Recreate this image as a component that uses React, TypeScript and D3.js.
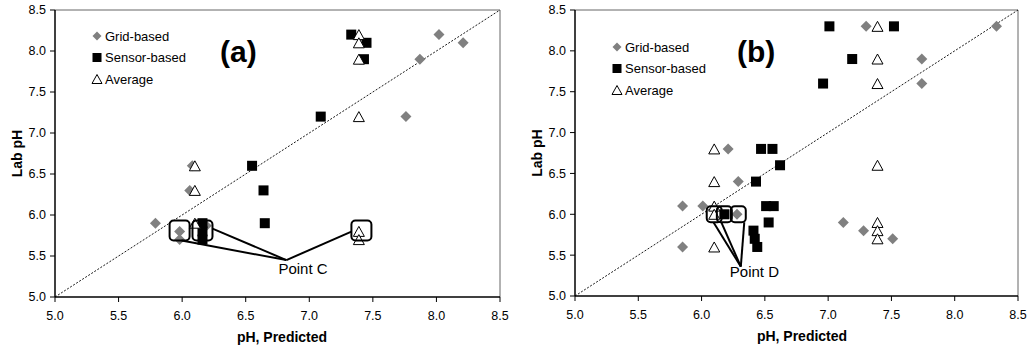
import React from "react";
import * as d3 from "d3";

type Pt = [number, number];

// Axis ticks shared by both panels (pH units)
const TICKS: number[] = [5.0, 5.5, 6.0, 6.5, 7.0, 7.5, 8.0, 8.5];

// Panel (a): [predicted pH, lab pH]
const gridA: Pt[] = [
  [8.02, 8.2], [8.21, 8.1], [7.87, 7.9], [7.76, 7.2], [6.08, 6.6], [6.06, 6.3],
  [5.79, 5.9], [6.19, 5.87], [5.98, 5.8], [5.98, 5.7],
];
const sensorA: Pt[] = [
  [7.33, 8.2], [7.45, 8.1], [7.43, 7.9], [7.09, 7.2], [6.55, 6.6], [6.64, 6.3],
  [6.65, 5.9], [6.16, 5.9], [6.16, 5.8], [6.16, 5.7],
];
const averageA: Pt[] = [
  [7.39, 8.2], [7.39, 8.1], [7.39, 7.9], [7.39, 7.2], [6.1, 6.6], [6.1, 6.3],
  [6.1, 5.9], [7.39, 5.8], [7.39, 5.7],
];
const calloutA: Pt[] = [[5.98, 5.81], [6.16, 5.81], [7.41, 5.81]];
const calloutAnchorA: Pt = [6.82, 5.45];

// Panel (b): [predicted pH, lab pH]
const gridB: Pt[] = [
  [7.3, 8.3], [8.33, 8.3], [7.74, 7.9], [7.74, 7.6], [6.21, 6.8], [6.29, 6.4],
  [5.85, 6.1], [6.01, 6.1], [6.28, 6.0], [5.85, 5.6], [7.12, 5.9], [7.28, 5.8],
  [7.51, 5.7],
];
const sensorB: Pt[] = [
  [7.01, 8.3], [7.52, 8.3], [7.19, 7.9], [6.96, 7.6], [6.47, 6.8], [6.56, 6.8],
  [6.62, 6.6], [6.43, 6.4], [6.51, 6.1], [6.57, 6.1], [6.18, 6.0], [6.53, 5.9],
  [6.41, 5.8], [6.42, 5.7], [6.44, 5.6],
];
const averageB: Pt[] = [
  [7.39, 8.3], [7.39, 7.9], [7.39, 7.6], [6.1, 6.8], [7.39, 6.6], [6.1, 6.4],
  [6.1, 6.1], [6.1, 6.0], [6.1, 5.6], [7.39, 5.9], [7.39, 5.8], [7.39, 5.7],
];
const calloutB: Pt[] = [[6.1, 6.0], [6.18, 6.0], [6.29, 6.0]];
const calloutAnchorB: Pt = [6.31, 5.36];

const LEGEND = ["Grid-based", "Sensor-based", "Average"];
const FONT = "'Liberation Sans', Arial, sans-serif";
const GRAY = "#808080";

const diamond = (cx: number, cy: number, r: number) =>
  `M${cx},${cy - r}L${cx + r},${cy}L${cx},${cy + r}L${cx - r},${cy}Z`;
const triangle = (cx: number, cy: number, w: number, h: number) =>
  `M${cx},${cy - h / 2}L${cx + w / 2},${cy + h / 2}L${cx - w / 2},${cy + h / 2}Z`;

interface PanelProps {
  left: number;
  right: number;
  top: number;
  bottom: number;
  tag: string;
  tagX: number;
  legendX: number;
  legendY: number;
  grid: Pt[];
  sensor: Pt[];
  average: Pt[];
  callouts: Pt[];
  boxW: number;
  boxH: number;
  anchor: Pt;
  // offsets (in box half-sizes) where each leader line leaves its box
  leaderStarts: Pt[];
  calloutText: string;
  calloutDx: number;
  calloutDy: number;
  titleX: number;
}

function Panel(p: PanelProps) {
  const x = d3.scaleLinear().domain([5, 8.5]).range([p.left, p.right]);
  const y = d3.scaleLinear().domain([5, 8.5]).range([p.bottom, p.top]);
  const [ax, ay] = [x(p.anchor[0]), y(p.anchor[1])];
  const midY = (p.top + p.bottom) / 2;

  return (
    <g fontFamily={FONT}>
      {/* plot frame */}
      <line x1={p.left} x2={p.right} y1={p.top} y2={p.top} stroke="#666" strokeWidth={1} />
      <line x1={p.right} x2={p.right} y1={p.top} y2={p.bottom} stroke="#666" strokeWidth={1} />

      {/* 1:1 line */}
      <line
        x1={x(5)} y1={y(5)} x2={x(8.5)} y2={y(8.5)}
        stroke="#000" strokeWidth={0.9} strokeDasharray="2,1.6"
      />

      {/* axes */}
      <line x1={p.left} x2={p.left} y1={p.top} y2={p.bottom} stroke="#000" strokeWidth={1.5} />
      <line x1={p.left} x2={p.right} y1={p.bottom} y2={p.bottom} stroke="#000" strokeWidth={1.5} />
      {TICKS.map((t) => (
        <g key={"y" + t}>
          <line x1={p.left - 5} x2={p.left} y1={y(t)} y2={y(t)} stroke="#000" strokeWidth={1} />
          <text x={p.left - 9} y={y(t)} dy="0.35em" textAnchor="end" fontSize={12.5} fill="#000">
            {t.toFixed(1)}
          </text>
        </g>
      ))}
      {TICKS.map((t) => (
        <g key={"x" + t}>
          <line x1={x(t)} x2={x(t)} y1={p.bottom} y2={p.bottom + 5} stroke="#000" strokeWidth={1} />
          <text x={x(t)} y={p.bottom + 23} textAnchor="middle" fontSize={12.5} fill="#000">
            {t.toFixed(1)}
          </text>
        </g>
      ))}
      <text x={p.titleX} y={p.bottom + 45} textAnchor="middle" fontSize={14} fontWeight="bold">
        pH, Predicted
      </text>
      <text
        transform={`translate(${p.left - 33},${midY}) rotate(-90)`}
        textAnchor="middle" fontSize={14} fontWeight="bold"
      >
        Lab pH
      </text>

      {/* series */}
      {p.grid.map((d, i) => (
        <path key={"g" + i} d={diamond(x(d[0]), y(d[1]), 5.5)} fill={GRAY} />
      ))}
      {p.sensor.map((d, i) => (
        <rect key={"s" + i} x={x(d[0]) - 5} y={y(d[1]) - 5} width={10} height={10} fill="#000" />
      ))}
      {p.average.map((d, i) => (
        <path
          key={"a" + i} d={triangle(x(d[0]), y(d[1]), 11, 10)}
          fill="#fff" stroke="#000" strokeWidth={1}
        />
      ))}

      {/* callout */}
      {p.callouts.map((d, i) => {
        const cx = x(d[0]);
        const cy = y(d[1]);
        const s = p.leaderStarts[i];
        return (
          <g key={"c" + i}>
            <rect
              x={cx - p.boxW / 2} y={cy - p.boxH / 2} width={p.boxW} height={p.boxH}
              rx={4} ry={4} fill="none" stroke="#000" strokeWidth={2}
            />
            <line
              x1={cx + (s[0] * p.boxW) / 2} y1={cy + (s[1] * p.boxH) / 2}
              x2={ax} y2={ay} stroke="#000" strokeWidth={2}
            />
          </g>
        );
      })}
      <text x={ax + p.calloutDx} y={ay + p.calloutDy} fontSize={15} fill="#000">
        {p.calloutText}
      </text>

      {/* panel tag */}
      <text x={p.tagX} y={62} fontSize={30} fontWeight="bold">{p.tag}</text>

      {/* legend */}
      <g fontSize={13}>
        <path d={diamond(p.legendX, p.legendY, 4.5)} fill={GRAY} />
        <text x={p.legendX + 8} y={p.legendY} dy="0.35em">{LEGEND[0]}</text>
        <rect x={p.legendX - 4.5} y={p.legendY + 21.5 - 4.5} width={9} height={9} fill="#000" />
        <text x={p.legendX + 8} y={p.legendY + 21.5} dy="0.35em">{LEGEND[1]}</text>
        <path
          d={triangle(p.legendX, p.legendY + 43, 10, 9)}
          fill="#fff" stroke="#000" strokeWidth={1}
        />
        <text x={p.legendX + 8} y={p.legendY + 43} dy="0.35em">{LEGEND[2]}</text>
      </g>
    </g>
  );
}

export default function App() {
  return (
    <svg
      width={1029} height={352}
      style={{ position: "absolute", left: 0, top: 0, background: "#fff" }}
    >
      <rect width={1029} height={352} fill="#fff" />
      <Panel
        left={55} right={500} top={10} bottom={297}
        tag="(a)" tagX={220} legendX={97} legendY={36}
        grid={gridA} sensor={sensorA} average={averageA}
        callouts={calloutA} boxW={20} boxH={20} anchor={calloutAnchorA}
        leaderStarts={[[0.2, 1], [1, -0.2], [-1, 0.1]]}
        calloutText="Point C" calloutDx={-8} calloutDy={14}
        titleX={282}
      />
      <Panel
        left={575} right={1018} top={10} bottom={296}
        tag="(b)" tagX={737} legendX={617} legendY={47}
        grid={gridB} sensor={sensorB} average={averageB}
        callouts={calloutB} boxW={15} boxH={16} anchor={calloutAnchorB}
        leaderStarts={[[-0.1, 1], [-0.4, 1], [0.8, 1]]}
        calloutText="Point D" calloutDx={-11} calloutDy={10}
        titleX={802}
      />
    </svg>
  );
}
